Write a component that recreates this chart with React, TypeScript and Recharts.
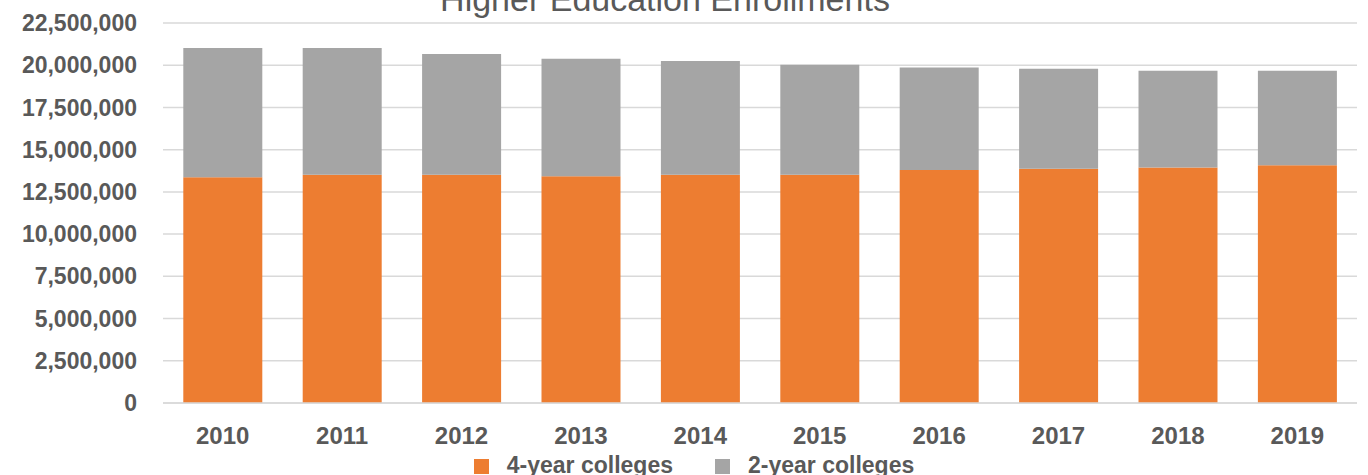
import React from 'react';
import { BarChart, Bar, XAxis, YAxis, CartesianGrid, Legend } from 'recharts';

const years = ['2010', '2011', '2012', '2013', '2014', '2015', '2016', '2017', '2018', '2019'];
const fourYear = [13360000, 13520000, 13520000, 13420000, 13520000, 13520000, 13790000, 13870000, 13950000, 14070000];
const twoYear = [7660000, 7500000, 7140000, 6960000, 6730000, 6510000, 6080000, 5920000, 5720000, 5600000];
const yTicks = [0, 2500000, 5000000, 7500000, 10000000, 12500000, 15000000, 17500000, 20000000, 22500000];
const legendOrder = ['fourYear', 'twoYear'];

const data = years.map((year, i) => ({ year, fourYear: fourYear[i], twoYear: twoYear[i] }));

const FONT = "'Liberation Sans', Arial, sans-serif";
const TEXT = '#595959';

const renderLegend = (props: any) => {
  const items = (props.payload || []).slice().sort(
    (a: any, b: any) => legendOrder.indexOf(a.dataKey) - legendOrder.indexOf(b.dataKey)
  );
  return (
    <div style={{ display: 'flex', justifyContent: 'center', paddingLeft: 26, fontFamily: FONT, fontSize: 23, fontWeight: 'bold', color: TEXT, lineHeight: '26px', height: 26 }}>
      {items.map((entry: any) => (
        <span key={entry.value} style={{ display: 'inline-flex', alignItems: 'center', marginRight: 24, marginLeft: 18 }}>
          <span style={{ display: 'inline-block', width: 15, height: 15, background: entry.color, marginRight: 18, marginTop: 3 }} />
          {entry.value}
        </span>
      ))}
    </div>
  );
};

export default function App() {
  return (
    <div style={{ position: 'absolute', left: 0, top: 0, width: 1368, height: 475, background: '#fff', overflow: 'hidden' }}>
      <BarChart
        width={1368}
        height={475}
        data={data}
        barCategoryGap="17%"
        margin={{ top: 23, right: 11, left: 0, bottom: 16 }}
      >
        <CartesianGrid vertical={false} stroke="#d9d9d9" strokeWidth={1.5} />
        <XAxis
          dataKey="year"
          height={30}
          axisLine={{ stroke: '#d9d9d9', strokeWidth: 1.5 }}
          tickLine={false}
          tickSize={0}
          tickMargin={24}
          tick={{ fill: TEXT, fontSize: 24, fontWeight: 'bold', fontFamily: FONT }}
        />
        <YAxis
          width={163}
          domain={[0, 22500000]}
          ticks={yTicks}
          axisLine={false}
          tickLine={false}
          tickSize={0}
          tickMargin={26}
          tickFormatter={(v: number) => v.toLocaleString('en-US')}
          tick={{ fill: TEXT, fontSize: 23, fontWeight: 'bold', fontFamily: FONT }}
        />
        <Legend content={renderLegend} wrapperStyle={{ left: 0, width: 1368, top: 452, height: 26 }} />
        <Bar dataKey="fourYear" name="4-year colleges" stackId="a" fill="#ED7D31" isAnimationActive={false} />
        <Bar dataKey="twoYear" name="2-year colleges" stackId="a" fill="#A5A5A5" isAnimationActive={false} />
      </BarChart>
      <svg width={1368} height={475} style={{ position: 'absolute', left: 0, top: 0, pointerEvents: 'none' }}>
        <text x={665} y={11} textAnchor="middle" fill={TEXT} fontSize={34} fontFamily={FONT}>
          Higher Education Enrollments
        </text>
      </svg>
    </div>
  );
}
